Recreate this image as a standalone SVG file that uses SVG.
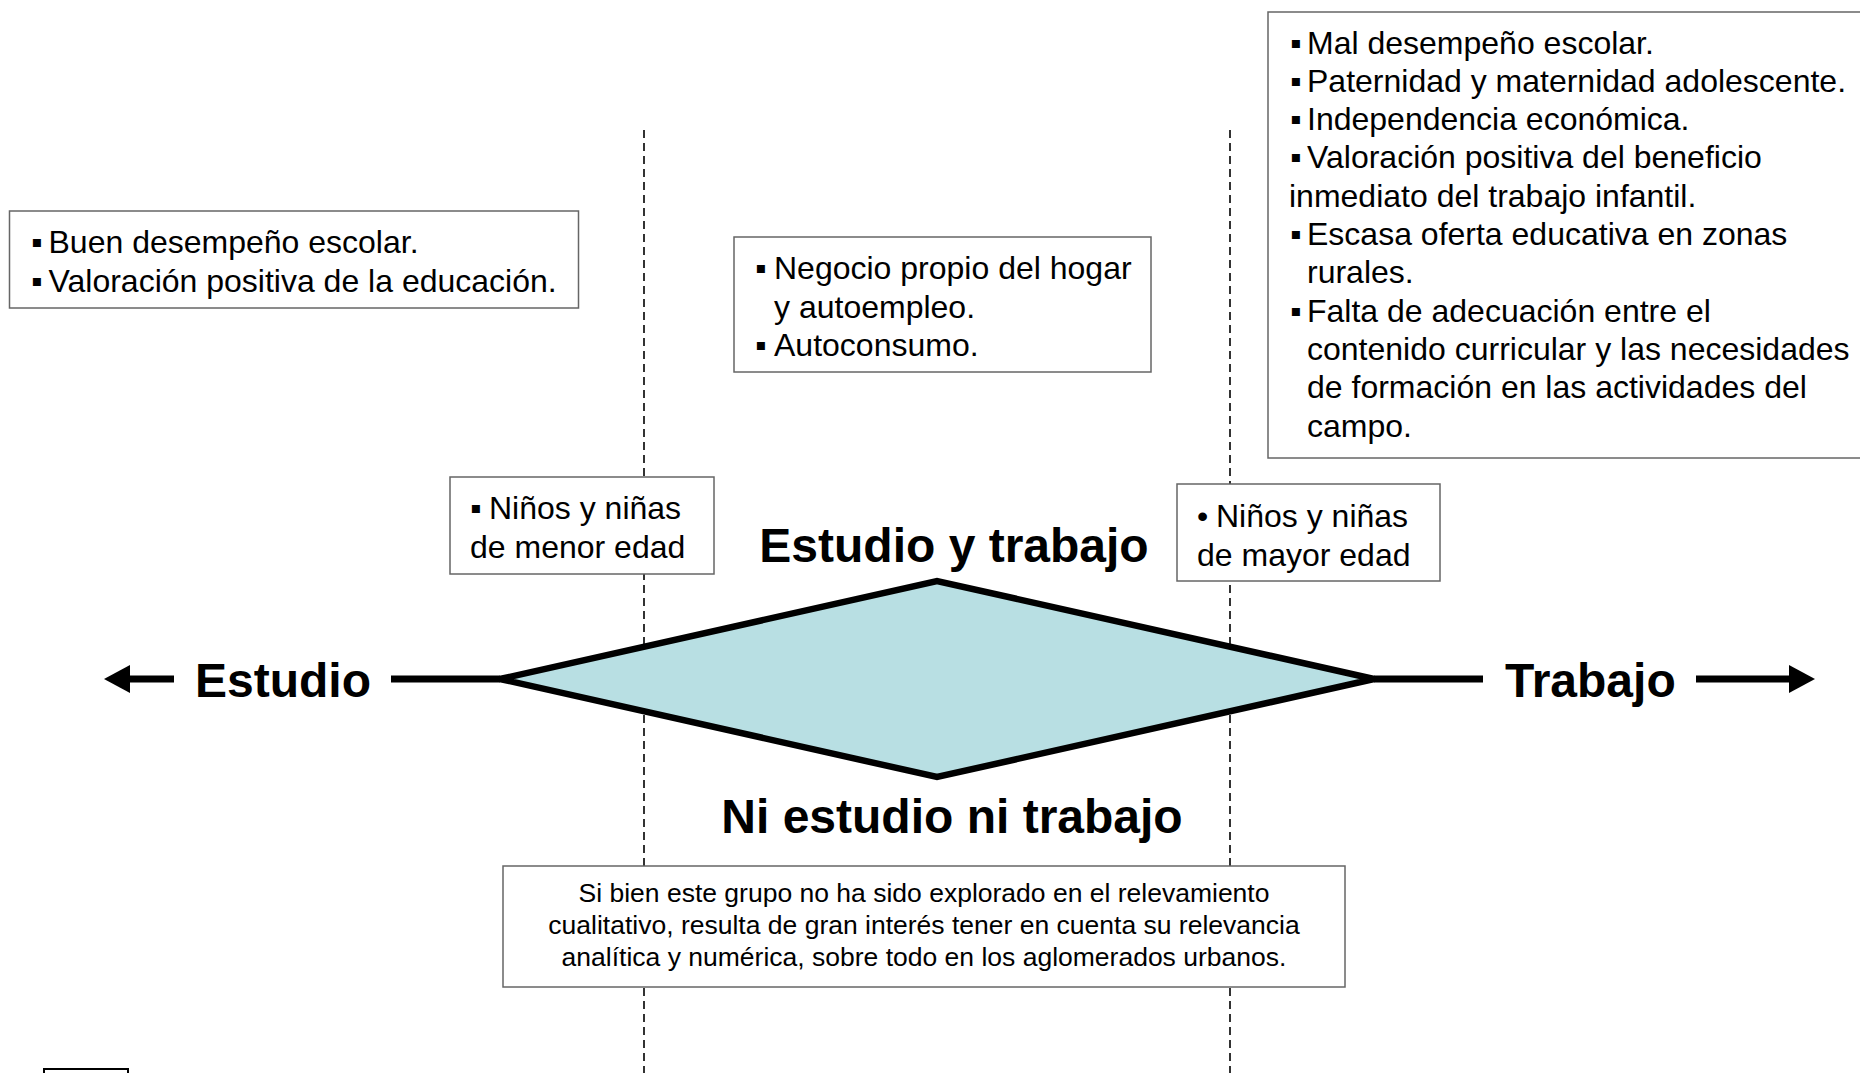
<svg xmlns="http://www.w3.org/2000/svg" width="1860" height="1073" viewBox="0 0 1860 1073">
<defs>
<style>
.box{fill:#ffffff;stroke:#666666;stroke-width:1.5}
.t{font-family:"Liberation Sans",Arial,sans-serif;font-size:32px;fill:#000}
.s{font-family:"Liberation Sans",Arial,sans-serif;font-size:26.5px;fill:#000}
.b{font-family:"Liberation Sans",Arial,sans-serif;font-size:48px;font-weight:bold;fill:#000}
.dash{stroke:#000;stroke-width:1.6;stroke-dasharray:8 5;fill:none}
.axis{stroke:#000;stroke-width:7;fill:none}
</style>
<marker id="ah" viewBox="0 0 26 28" refX="10" refY="14" markerWidth="26" markerHeight="28" orient="auto-start-reverse" markerUnits="userSpaceOnUse">
<path d="M0,0 L26,14 L0,28 z" fill="#000"/>
</marker>
</defs>
<rect width="1860" height="1073" fill="#fff"/>
<g id="guides">
<line class="dash" x1="644" y1="130" x2="644" y2="1073"/>
<line class="dash" x1="1230" y1="130" x2="1230" y2="1073"/>
</g>
<g id="connectors">
<line class="axis" x1="391" y1="679" x2="500" y2="679"/>
<line class="axis" x1="1374" y1="679" x2="1483" y2="679"/>
<line class="axis" x1="174" y1="679" x2="120" y2="679" marker-end="url(#ah)"/>
<line class="axis" x1="1696" y1="679" x2="1799" y2="679" marker-end="url(#ah)"/>
</g>
<g id="diamond">
<polygon points="500,679 937,581 1374,679 937,777" fill="#b8dfe3" stroke="#000" stroke-width="6.5" stroke-linejoin="miter"/>
</g>
<g id="label-estudio"><text class="b" x="195" y="697">Estudio</text></g>
<g id="label-trabajo"><text class="b" x="1505" y="697">Trabajo</text></g>
<g id="label-estudio-trabajo"><text class="b" x="954" y="562" text-anchor="middle">Estudio y trabajo</text></g>
<g id="label-ni"><text class="b" x="952" y="833" text-anchor="middle">Ni estudio ni trabajo</text></g>
<g id="box-estudio">
<rect class="box" x="9.5" y="211" width="569" height="97"/>
<text class="t" y="253"><tspan x="31">▪</tspan><tspan x="48.5">Buen desempeño escolar.</tspan></text>
<text class="t" y="292"><tspan x="31">▪</tspan><tspan x="48.5">Valoración positiva de la educación.</tspan></text>
</g>
<g id="box-estudio-trabajo">
<rect class="box" x="734" y="237" width="417" height="135"/>
<text class="t" y="279"><tspan x="755">▪</tspan><tspan x="774">Negocio propio del hogar</tspan></text>
<text class="t" y="318"><tspan x="774">y autoempleo.</tspan></text>
<text class="t" y="356"><tspan x="755">▪</tspan><tspan x="774">Autoconsumo.</tspan></text>
</g>
<g id="box-trabajo">
<rect class="box" x="1268" y="12" width="610" height="446"/>
<text class="t" y="54"><tspan x="1290">▪</tspan><tspan x="1307">Mal desempeño escolar.</tspan></text>
<text class="t" y="92"><tspan x="1290">▪</tspan><tspan x="1307">Paternidad y maternidad adolescente.</tspan></text>
<text class="t" y="130"><tspan x="1290">▪</tspan><tspan x="1307">Independencia económica.</tspan></text>
<text class="t" y="168"><tspan x="1290">▪</tspan><tspan x="1307">Valoración positiva del beneficio</tspan></text>
<text class="t" y="207"><tspan x="1289">inmediato del trabajo infantil.</tspan></text>
<text class="t" y="245"><tspan x="1290">▪</tspan><tspan x="1307">Escasa oferta educativa en zonas</tspan></text>
<text class="t" y="283"><tspan x="1307">rurales.</tspan></text>
<text class="t" y="322"><tspan x="1290">▪</tspan><tspan x="1307">Falta de adecuación entre el</tspan></text>
<text class="t" y="360"><tspan x="1307">contenido curricular y las necesidades</tspan></text>
<text class="t" y="398"><tspan x="1307">de formación en las actividades del</tspan></text>
<text class="t" y="437"><tspan x="1307">campo.</tspan></text>
</g>
<g id="box-menor">
<rect class="box" x="450" y="477" width="264" height="97"/>
<text class="t" y="519"><tspan x="470">▪</tspan><tspan x="489">Niños y niñas</tspan></text>
<text class="t" y="558"><tspan x="470">de menor edad</tspan></text>
</g>
<g id="box-mayor">
<rect class="box" x="1177" y="484" width="263" height="97"/>
<text class="t" y="527"><tspan x="1197">•</tspan><tspan x="1216">Niños y niñas</tspan></text>
<text class="t" y="566"><tspan x="1197">de mayor edad</tspan></text>
</g>
<g id="box-ni">
<rect class="box" x="503" y="866" width="842" height="121"/>
<text class="s" x="924" y="902" text-anchor="middle">Si bien este grupo no ha sido explorado en el relevamiento</text>
<text class="s" x="924" y="934" text-anchor="middle">cualitativo, resulta de gran interés tener en cuenta su relevancia</text>
<text class="s" x="924" y="966" text-anchor="middle">analítica y numérica, sobre todo en los aglomerados urbanos.</text>
</g>
<g id="box-small">
<rect x="44" y="1069" width="84" height="20" fill="#fff" stroke="#000" stroke-width="2"/>
</g>
</svg>
